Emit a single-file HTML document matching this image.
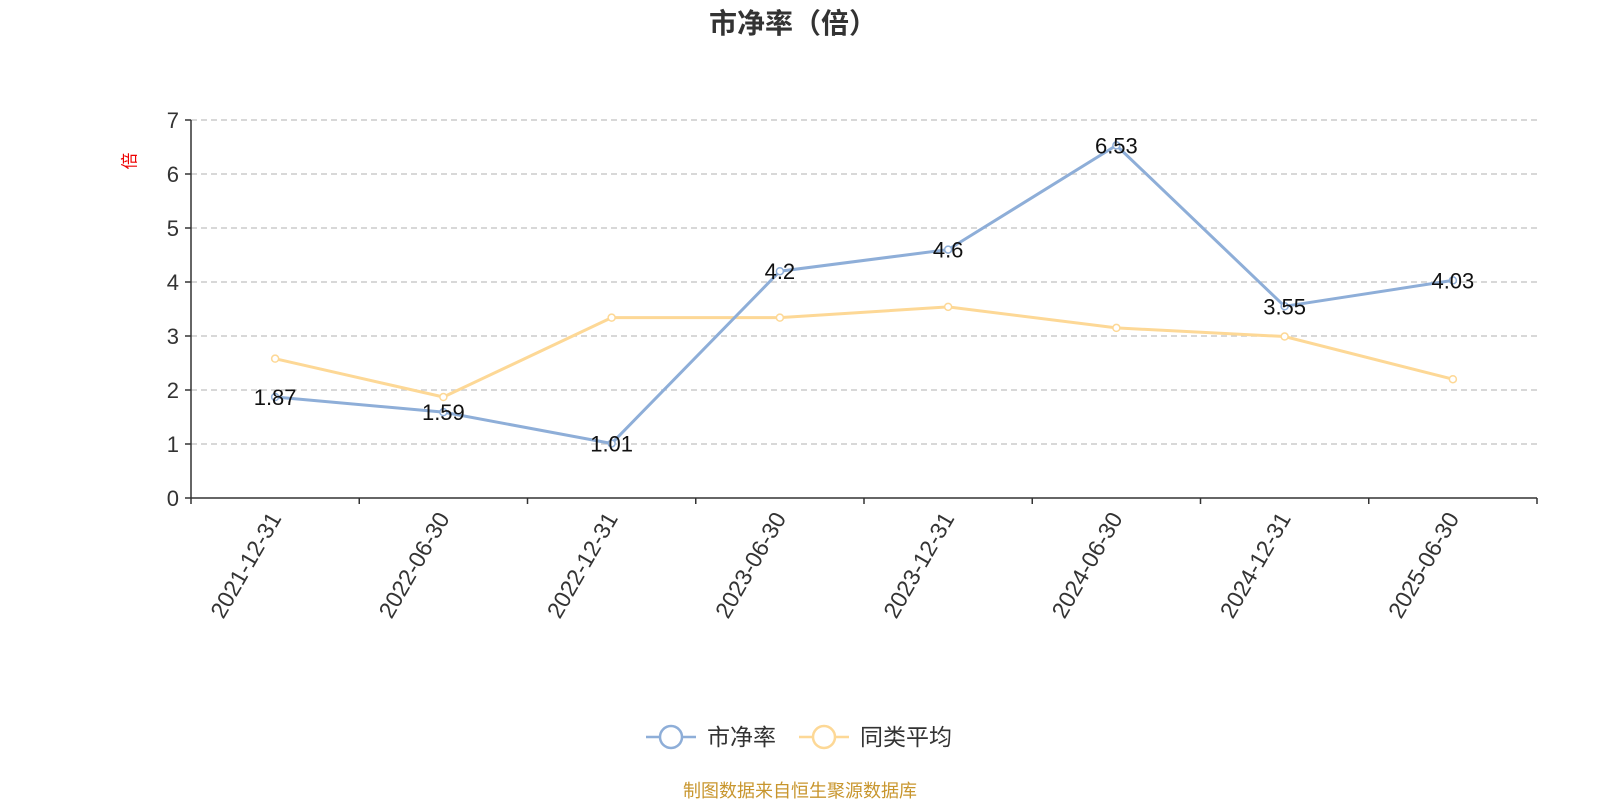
<!DOCTYPE html>
<html><head><meta charset="utf-8"><style>
body{margin:0;background:#fff;width:1600px;height:800px;overflow:hidden;font-family:"Liberation Sans","Noto Sans CJK SC",sans-serif;}
</style></head><body>
<svg id="chart" width="1600" height="800" xmlns="http://www.w3.org/2000/svg" font-family="Liberation Sans, Noto Sans CJK SC, sans-serif">
<text x="793" y="33" text-anchor="middle" font-size="28" font-weight="bold" fill="#333">市净率（倍）</text>
<text x="0" y="0" transform="translate(130,161) rotate(-90)" text-anchor="middle" font-size="17" fill="#e00" dominant-baseline="central">倍</text>
<g id="grid"></g><g id="axes"></g><g id="series"></g>
<g>
<g>
<line x1="646" y1="737" x2="696" y2="737" stroke="#8eaed8" stroke-width="2.5"/>
<circle cx="671" cy="737" r="11" fill="#fff" stroke="#8eaed8" stroke-width="2.5"/>
<text x="707" y="745" font-size="23" fill="#333">市净率</text></g>
<g>
<line x1="799" y1="737" x2="849" y2="737" stroke="#fdd896" stroke-width="2.5"/>
<circle cx="824" cy="737" r="11" fill="#fff" stroke="#fdd896" stroke-width="2.5"/>
<text x="860" y="745" font-size="23" fill="#333">同类平均</text></g>
</g>
<text x="800" y="797" text-anchor="middle" font-size="18" fill="#c8962e">制图数据来自恒生聚源数据库</text>
</svg>
<script>
const categories=["2021-12-31","2022-06-30","2022-12-31","2023-06-30","2023-12-31","2024-06-30","2024-12-31","2025-06-30"];
const pbValues=[1.87,1.59,1.01,4.2,4.6,6.53,3.55,4.03];
const avgValues=[2.58,1.87,3.34,3.34,3.54,3.15,2.99,2.2];
const yTicks=[0,1,2,3,4,5,6,7];
const NS="http://www.w3.org/2000/svg";
const X0=191,X1=1537,Y0=498,Y1=120,YMAX=7;
const band=(X1-X0)/categories.length;
function xs(i){return X0+band*(i+0.5);}
function ys(v){return Y0-(Y0-Y1)*v/YMAX;}
function mk(tag,attrs,parent){const e=document.createElementNS(NS,tag);for(const k in attrs)e.setAttribute(k,attrs[k]);parent.appendChild(e);return e;}
const grid=document.getElementById('grid'),axes=document.getElementById('axes'),series=document.getElementById('series');
yTicks.forEach(t=>{
 if(t>0){const g=mk('line',{x1:X0,x2:X1,y1:ys(t),y2:ys(t),stroke:'#ccc','stroke-dasharray':'6,4','stroke-width':1.5},grid);
 
 }
 const tk=mk('line',{x1:X0-6,x2:X0,y1:ys(t),y2:ys(t),stroke:'#333','stroke-width':1.5},axes);
 
 
 const lb=mk('text',{x:X0-12,y:ys(t)+8,'text-anchor':'end','font-size':22,fill:'#333'},axes);
 lb.textContent=t;
 
 
});
const ya=mk('line',{x1:X0,x2:X0,y1:Y1,y2:Y0,stroke:'#333','stroke-width':1.5},axes);


const xa=mk('line',{x1:X0,x2:X1,y1:Y0,y2:Y0,stroke:'#333','stroke-width':1.5},axes);


for(let i=0;i<=categories.length;i++){
 const tk=mk('line',{x1:X0+band*i,x2:X0+band*i,y1:Y0,y2:Y0+6,stroke:'#333','stroke-width':1.5},axes);
 
 
}
categories.forEach((c,i)=>{
 const x=xs(i),y=Y0+16;
 const lb=mk('text',{x:x,y:y,'text-anchor':'end','font-size':23,fill:'#333',transform:`rotate(-60 ${x} ${y})`,'dominant-baseline':'central'},axes);
 lb.textContent=c;
 
 
});
function drawSeries(vals,color,name,labels){
 const pts=vals.map((v,i)=>xs(i)+','+ys(v)).join(' ');
 const pl=mk('polyline',{points:pts,fill:'none',stroke:color,'stroke-width':3},series);
 
 
 vals.forEach((v,i)=>{
  const c=mk('circle',{cx:xs(i),cy:ys(v),r:3.5,fill:'#fff',stroke:color,'stroke-width':1.5},series);
  
  
 });
 if(labels){vals.forEach((v,i)=>{
  const t=mk('text',{x:xs(i),y:ys(v)+8,'text-anchor':'middle','font-size':22,fill:'#111'},series);
  t.textContent=v;
  
  
 });}
}
drawSeries(avgValues,'#fdd896','peer-average',false);
drawSeries(pbValues,'#8eaed8','pb-ratio',true);
</script>
</body></html>
